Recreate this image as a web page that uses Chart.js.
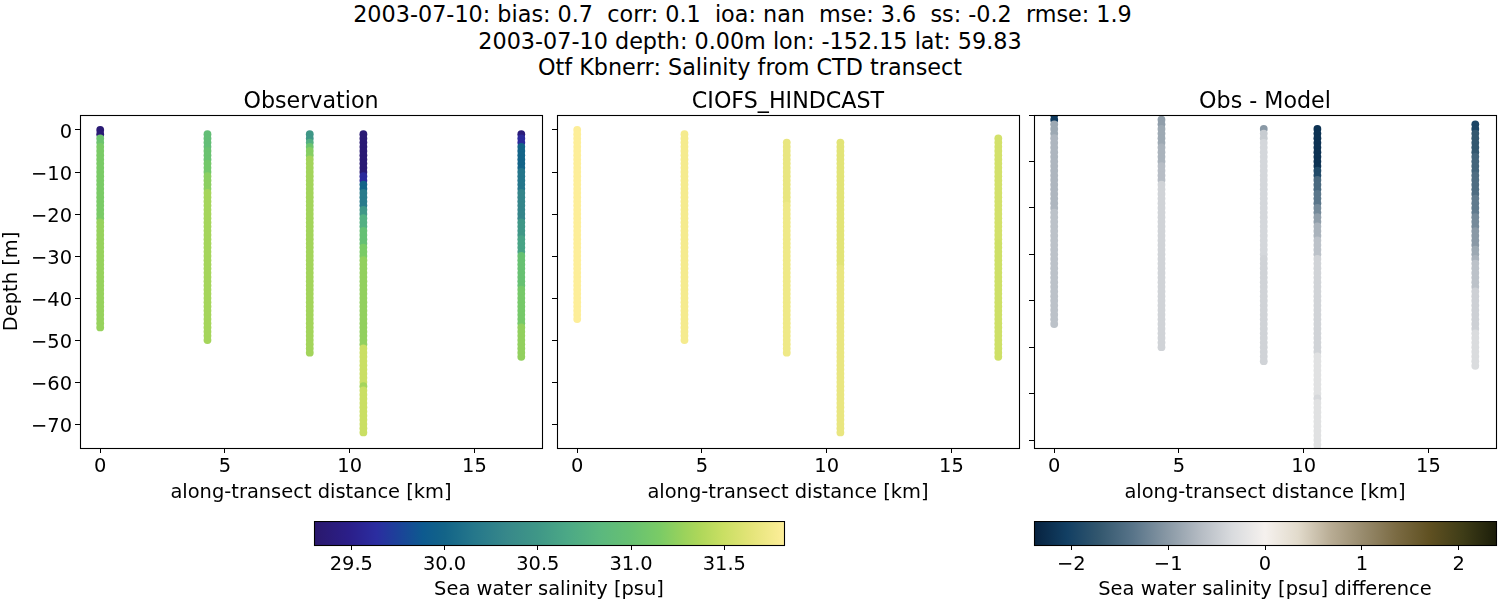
<!DOCTYPE html>
<html><head><meta charset="utf-8">
<script src="https://cdn.jsdelivr.net/npm/chart.js@4"></script>
<style>
html,body{margin:0;padding:0;background:#fff;width:1500px;height:600px;overflow:hidden}
canvas{position:absolute}
#sup{position:absolute;left:0;top:0;width:1500px;text-align:center;font-family:"DejaVu Sans";font-size:22.3px;line-height:26.5px;color:#000;padding-top:1.4px}
#sup div{white-space:pre}
</style></head><body>
<div id="sup"><div style="padding-right:15px">2003-07-10: bias: 0.7  corr: 0.1  ioa: nan  mse: 3.6  ss: -0.2  rmse: 1.9</div><div>2003-07-10 depth: 0.00m lon: -152.15 lat: 59.83</div><div>Otf Kbnerr: Salinity from CTD transect</div></div>
<canvas id="c1" width="550" height="420" style="left:0;top:85px"></canvas>
<canvas id="c2" width="480" height="420" style="left:547px;top:85px"></canvas>
<canvas id="c3" width="480" height="420" style="left:1020px;top:85px"></canvas>
<canvas id="c4" width="540" height="81" style="left:280px;top:521px"></canvas>
<canvas id="c5" width="500" height="81" style="left:1000px;top:521px"></canvas>
<script>
// ---- data ----
const stationDistance = [0.0, 4.3, 8.4, 10.55, 16.88];
const depthLevels = [0,-1,-2,-3,-4,-5,-6,-7,-8,-9,-10,-11,-12,-13,-14,-15,-16,-17,-18,-19,-20,-21,-22,-23,-24,-25,-26,-27,-28,-29,-30,-31,-32,-33,-34,-35,-36,-37,-38,-39,-40,-41,-42,-43,-44,-45,-46,-47,-48,-49,-50,-51,-52,-53,-54,-55,-56,-57,-58,-59,-60,-61,-62,-63,-64,-65,-66,-67,-68,-69,-70,-71,-72];

const obsStart = [0, 1, 1, 1, 1];
const obsA = [29.35,29.35,31.05,31.05,31.15,31.15,31.15,31.15,31.15,31.15,31.15,31.15,31.15,31.15,31.15,31.15,31.15,31.15,31.15,31.15,31.15,31.15,31.27,31.27,31.27,31.27,31.27,31.27,31.27,31.27,31.27,31.27,31.27,31.27,31.27,31.27,31.27,31.27,31.27,31.27,31.27,31.27,31.27,31.27,31.27,31.27,31.27,31.27];
const obsB = [30.95,30.95,30.95,30.95,31.02,31.02,31.02,31.1,31.1,31.1,31.22,31.22,31.22,31.22,31.33,31.33,31.33,31.33,31.33,31.33,31.33,31.33,31.33,31.33,31.33,31.33,31.33,31.33,31.33,31.33,31.33,31.33,31.33,31.33,31.33,31.33,31.33,31.33,31.33,31.33,31.33,31.33,31.33,31.33,31.33,31.33,31.33,31.33,31.33,31.33];
const obsC = [30.5,30.5,30.75,31.05,31.2,31.2,31.32,31.32,31.32,31.32,31.32,31.32,31.32,31.32,31.32,31.32,31.32,31.32,31.32,31.32,31.32,31.32,31.32,31.32,31.32,31.32,31.32,31.32,31.32,31.32,31.32,31.32,31.32,31.32,31.32,31.32,31.32,31.32,31.32,31.32,31.32,31.32,31.32,31.32,31.32,31.32,31.32,31.32,31.32,31.32,31.32,31.32,31.32];
const obsD = [29.35,29.35,29.35,29.35,29.35,29.35,29.35,29.35,29.35,29.35,29.6,29.6,30.0,30.0,30.2,30.2,30.2,30.2,30.5,30.5,30.75,30.75,30.75,30.98,30.98,30.98,30.98,31.15,31.15,31.15,31.25,31.25,31.25,31.25,31.25,31.25,31.25,31.25,31.25,31.25,31.25,31.25,31.25,31.25,31.25,31.25,31.25,31.25,31.25,31.25,31.25,31.5,31.5,31.5,31.5,31.5,31.5,31.5,31.5,31.5,31.33,31.5,31.5,31.5,31.5,31.5,31.5,31.5,31.5,31.5,31.5,31.5];
const obsE = [29.4,29.6,29.6,30.0,30.0,30.0,30.0,30.0,30.0,30.15,30.15,30.15,30.15,30.15,30.3,30.3,30.3,30.3,30.3,30.3,30.3,30.5,30.5,30.5,30.5,30.62,30.62,30.62,30.62,31.0,31.0,31.0,31.0,31.0,31.0,31.0,31.0,31.12,31.12,31.12,31.12,31.12,31.12,31.12,31.12,31.12,31.25,31.25,31.25,31.25,31.25,31.25,31.25,31.25];

const modStart = [0, 1, 3, 3, 2];
const modA = [31.82,31.82,31.82,31.82,31.82,31.82,31.82,31.82,31.82,31.82,31.82,31.82,31.82,31.82,31.82,31.82,31.82,31.82,31.82,31.82,31.82,31.82,31.82,31.82,31.82,31.82,31.82,31.82,31.82,31.82,31.82,31.82,31.82,31.82,31.82,31.82,31.82,31.82,31.82,31.82,31.82,31.82,31.82,31.82,31.82,31.82];
const modB = [31.76,31.76,31.76,31.76,31.76,31.76,31.76,31.76,31.76,31.76,31.76,31.76,31.76,31.76,31.76,31.76,31.76,31.76,31.76,31.76,31.76,31.76,31.76,31.76,31.76,31.76,31.76,31.76,31.76,31.76,31.76,31.76,31.76,31.76,31.76,31.76,31.76,31.76,31.76,31.76,31.76,31.76,31.76,31.76,31.76,31.76,31.76,31.76,31.76,31.76];
const modC = [31.68,31.68,31.68,31.68,31.68,31.68,31.68,31.68,31.68,31.68,31.68,31.68,31.68,31.68,31.68,31.72,31.72,31.72,31.72,31.72,31.72,31.72,31.72,31.72,31.72,31.72,31.72,31.72,31.72,31.72,31.72,31.72,31.72,31.72,31.72,31.72,31.72,31.72,31.72,31.72,31.72,31.72,31.72,31.72,31.72,31.72,31.72,31.72,31.72,31.72,31.72];
const modD = [31.63,31.63,31.63,31.63,31.63,31.63,31.63,31.63,31.63,31.63,31.63,31.63,31.63,31.63,31.63,31.63,31.63,31.63,31.63,31.63,31.63,31.63,31.63,31.63,31.63,31.63,31.63,31.63,31.63,31.63,31.68,31.68,31.68,31.68,31.68,31.68,31.68,31.68,31.68,31.68,31.68,31.68,31.68,31.68,31.68,31.68,31.68,31.68,31.68,31.68,31.68,31.68,31.68,31.68,31.68,31.68,31.68,31.68,31.68,31.68,31.68,31.68,31.68,31.68,31.68,31.68,31.68,31.68,31.68,31.68];
const modE = [31.55,31.55,31.55,31.55,31.55,31.55,31.55,31.55,31.55,31.55,31.55,31.55,31.55,31.55,31.55,31.55,31.55,31.55,31.55,31.55,31.55,31.55,31.55,31.55,31.55,31.52,31.52,31.52,31.52,31.52,31.52,31.52,31.52,31.52,31.52,31.52,31.52,31.52,31.52,31.52,31.52,31.52,31.52,31.52,31.52,31.52,31.52,31.52,31.52,31.52,31.52,31.52,31.52];

const difStart = [0, 1, 3, 3, 2];
const difA = [-2.1,-2.1,-0.85,-0.85,-0.85,-0.72,-0.72,-0.72,-0.72,-0.72,-0.72,-0.72,-0.72,-0.72,-0.72,-0.72,-0.72,-0.72,-0.72,-0.72,-0.72,-0.6,-0.6,-0.6,-0.6,-0.6,-0.6,-0.6,-0.6,-0.6,-0.6,-0.6,-0.6,-0.6,-0.6,-0.6,-0.6,-0.6,-0.6,-0.6,-0.6,-0.6,-0.6,-0.6,-0.6,-0.6];
const difB = [-0.95,-0.95,-0.85,-0.85,-0.85,-0.85,-0.75,-0.75,-0.75,-0.75,-0.65,-0.65,-0.65,-0.65,-0.42,-0.42,-0.42,-0.42,-0.42,-0.42,-0.42,-0.42,-0.42,-0.42,-0.42,-0.42,-0.42,-0.42,-0.42,-0.42,-0.42,-0.42,-0.42,-0.42,-0.42,-0.42,-0.42,-0.42,-0.42,-0.42,-0.42,-0.42,-0.42,-0.42,-0.42,-0.42,-0.42,-0.42,-0.42,-0.42];
const difC = [-1.0,-0.5,-0.5,-0.38,-0.38,-0.38,-0.38,-0.38,-0.38,-0.38,-0.38,-0.38,-0.38,-0.38,-0.38,-0.38,-0.38,-0.38,-0.38,-0.38,-0.38,-0.38,-0.38,-0.38,-0.38,-0.38,-0.38,-0.38,-0.42,-0.42,-0.42,-0.42,-0.42,-0.42,-0.42,-0.42,-0.42,-0.42,-0.42,-0.42,-0.42,-0.42,-0.42,-0.42,-0.42,-0.42,-0.42,-0.42,-0.42,-0.42,-0.42];
const difD = [-2.2,-2.2,-2.2,-2.2,-2.2,-2.2,-2.2,-2.2,-2.2,-1.9,-1.9,-1.5,-1.5,-1.5,-1.35,-1.35,-1.35,-1.15,-1.15,-0.95,-0.95,-0.75,-0.75,-0.75,-0.6,-0.6,-0.6,-0.6,-0.42,-0.42,-0.42,-0.42,-0.42,-0.42,-0.42,-0.42,-0.42,-0.42,-0.42,-0.42,-0.42,-0.42,-0.42,-0.42,-0.42,-0.42,-0.42,-0.42,-0.42,-0.25,-0.25,-0.25,-0.25,-0.25,-0.25,-0.25,-0.25,-0.25,-0.37,-0.25,-0.25,-0.25,-0.25,-0.25,-0.25,-0.25,-0.25,-0.25,-0.25,-0.25];
const difE = [-1.95,-1.95,-1.7,-1.7,-1.7,-1.7,-1.7,-1.55,-1.55,-1.55,-1.55,-1.45,-1.45,-1.45,-1.45,-1.45,-1.3,-1.3,-1.3,-1.3,-1.15,-1.15,-1.15,-1.0,-1.0,-1.0,-1.0,-0.85,-0.85,-0.75,-0.6,-0.6,-0.6,-0.6,-0.6,-0.6,-0.45,-0.45,-0.45,-0.45,-0.45,-0.45,-0.45,-0.45,-0.45,-0.33,-0.33,-0.33,-0.33,-0.33,-0.33,-0.33,-0.33];

const xTicks = [0, 5, 10, 15];
const yTicks = [0, -10, -20, -30, -40, -50, -60, -70];
const salinityTicks = [29.5, 30.0, 30.5, 31.0, 31.5];
const salinityTickLabels = ['29.5', '30.0', '30.5', '31.0', '31.5'];
const diffTicks = [-2, -1, 0, 1, 2];
const diffTickLabels = ['\u22122', '\u22121', '0', '1', '2'];
const salinityRange = [29.3, 31.82];
const diffRange = [-2.386, 2.386];

// ---- colour maps: [position along the bar, colour] ----
const halineStops = [[0,'#2a186c'],[0.077,'#2b1f8a'],[0.133,'#2b2da0'],[0.18,'#1c4299'],[0.232,'#0d5a8f'],[0.278,'#136488'],[0.34,'#25778b'],[0.41,'#37888a'],[0.476,'#3f9787'],[0.537,'#4ba886'],[0.61,'#5bb87e'],[0.675,'#67c172'],[0.735,'#7acb66'],[0.785,'#99d25c'],[0.82,'#aed75a'],[0.87,'#c9df63'],[0.927,'#e3e478'],[1,'#fdee99']];
const diffStops = [[0,'#07223f'],[0.071,'#123f63'],[0.143,'#34586f'],[0.214,'#587489'],[0.286,'#8797a4'],[0.357,'#b3bac2'],[0.429,'#d9dbde'],[0.5,'#f5f1ee'],[0.571,'#e2dbcc'],[0.643,'#b8ac94'],[0.714,'#978a6c'],[0.786,'#7a6a42'],[0.857,'#5f5021'],[0.929,'#3e3c17'],[1,'#1c1e0a']];
function hex(c){return [1,3,5].map(i=>parseInt(c.substr(i,2),16));}
function cmap(stops,range,v){
  const t=Math.max(0,Math.min(1,(v-range[0])/(range[1]-range[0])));
  let i=0;while(i<stops.length-2&&stops[i+1][0]<t)i++;
  const f=(t-stops[i][0])/(stops[i+1][0]-stops[i][0]),a=hex(stops[i][1]),b=hex(stops[i+1][1]);
  return 'rgb('+a.map((x,k)=>Math.round(x+(b[k]-x)*f)).join(',')+')';
}

// ---- chart building ----
const FONT='"DejaVu Sans"';
const LABEL=19.44;
const frame={id:'frame',afterDraw(ch){const a=ch.chartArea,c=ch.ctx;c.save();c.strokeStyle='#000';c.lineWidth=1.1;
  c.strokeRect(Math.round(a.left)+.5,Math.round(a.top)+.5,Math.round(a.right-a.left),Math.round(a.bottom-a.top));c.restore();}};
function xMinus(v){return String(v).replace('-','\u2212');}

function depthPanel(id,title,series,starts,stops,range,yMin,yMax,xMin,xMax,leftW,rightPad,showY){
  const datasets=series.map((vals,k)=>({
    data:vals.map((v,i)=>({x:stationDistance[k],y:depthLevels[starts[k]+i]})),
    pointBackgroundColor:vals.map(v=>cmap(stops,range,v)),
    pointRadius:3.9,pointBorderWidth:0,pointHoverRadius:3.9,showLine:false,clip:0
  }));
  datasets.reverse();
  new Chart(document.getElementById(id),{
    type:'scatter',data:{datasets},plugins:[frame],
    options:{responsive:false,animation:false,devicePixelRatio:1,
      layout:{autoPadding:false,padding:{left:0,right:rightPad,top:0,bottom:0}},
      plugins:{legend:{display:false},tooltip:{enabled:false},
        title:{display:true,text:title,fullSize:false,color:'#000',font:{family:FONT,size:22.2,weight:'normal',lineHeight:1},padding:{top:6.2,bottom:1.6}}},
      scales:{
        x:{type:'linear',min:xMin,max:xMax,
          afterBuildTicks(s){s.ticks=xTicks.map(v=>({value:v}));},
          afterFit(s){s.height=57;},
          border:{display:false},
          grid:{drawOnChartArea:false,drawTicks:true,tickLength:5,tickColor:'#000',tickWidth:1},
          ticks:{autoSkip:false,maxRotation:0,color:'#000',padding:2,font:{family:FONT,size:LABEL},callback:v=>xMinus(v)},
          title:{display:true,text:'along-transect distance [km]',color:'#000',font:{family:FONT,size:LABEL},padding:{top:0,bottom:0}}},
        y:{type:'linear',min:yMin,max:yMax,
          afterBuildTicks(s){s.ticks=yTicks.map(v=>({value:v}));},
          afterFit(s){s.width=leftW;},
          border:{display:false},
          grid:{drawOnChartArea:false,drawTicks:true,tickLength:5,tickColor:'#000',tickWidth:1},
          ticks:{display:showY,autoSkip:false,color:'#000',padding:3,labelOffset:2.5,font:{family:FONT,size:LABEL},callback:v=>xMinus(v)},
          title:{display:showY,text:'Depth [m]',color:'#000',font:{family:FONT,size:LABEL},padding:{top:0,bottom:0}}}
      }}
  });
}
depthPanel('c1','Observation',[obsA,obsB,obsC,obsD,obsE],obsStart,halineStops,salinityRange,-75.7,3.57,-0.81,17.71,80,8,true);
depthPanel('c2','CIOFS_HINDCAST',[modA,modB,modC,modD,modE],modStart,halineStops,salinityRange,-75.7,3.57,-0.81,17.71,10,8,false);
depthPanel('c3','Obs - Model',[difA,difB,difC,difD,difE],difStart,diffStops,diffRange,-71.7,0,-0.81,17.71,14,4,false);

function colorbar(id,label,stops,range,ticks,labels,padL,padR){
  new Chart(document.getElementById(id),{
    type:'bar',plugins:[frame],
    data:{labels:[''],datasets:[{data:[[range[0],range[1]]],barPercentage:1,categoryPercentage:1,borderWidth:0,borderSkipped:false,
      backgroundColor(ctx){const a=ctx.chart.chartArea;if(!a)return stops[0][1];
        const g=ctx.chart.ctx.createLinearGradient(a.left,0,a.right,0);
        stops.forEach(s=>g.addColorStop(s[0],s[1]));return g;}}]},
    options:{indexAxis:'y',responsive:false,animation:false,devicePixelRatio:1,
      layout:{autoPadding:false,padding:{left:padL,right:padR,top:0,bottom:0}},
      plugins:{legend:{display:false},tooltip:{enabled:false}},
      scales:{
        y:{display:false},
        x:{type:'linear',min:range[0],max:range[1],
          afterBuildTicks(s){s.ticks=ticks.map(v=>({value:v}));},
          afterFit(s){s.height=57;},
          border:{display:false},
          grid:{drawOnChartArea:false,drawTicks:true,tickLength:5,tickColor:'#000',tickWidth:1},
          ticks:{autoSkip:false,maxRotation:0,color:'#000',padding:3,font:{family:FONT,size:LABEL},callback:v=>labels[ticks.indexOf(v)]},
          title:{display:true,text:label,color:'#000',font:{family:FONT,size:LABEL},padding:{top:0,bottom:0}}}
      }}
  });
}
colorbar('c4','Sea water salinity [psu]',halineStops,salinityRange,salinityTicks,salinityTickLabels,34,36);
colorbar('c5','Sea water salinity [psu] difference',diffStops,diffRange,diffTicks,diffTickLabels,34,4);
</script>
</body></html>
